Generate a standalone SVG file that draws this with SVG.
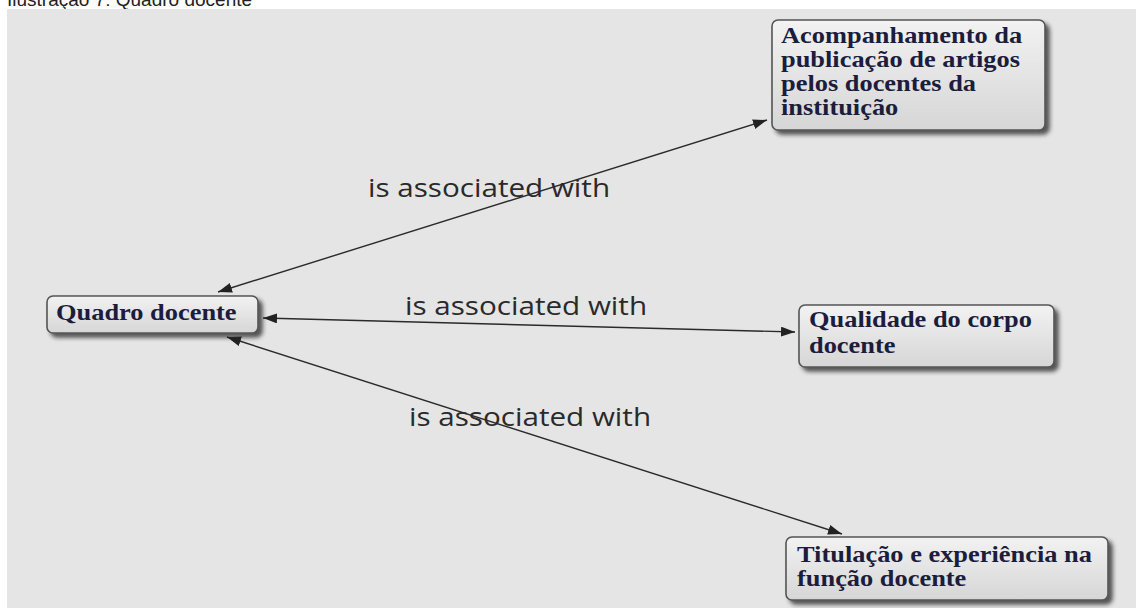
<svg xmlns="http://www.w3.org/2000/svg" width="1136" height="608" viewBox="0 0 1136 608">
  <defs>
    <linearGradient id="nodeFill" x1="0" y1="0" x2="0" y2="1">
      <stop offset="0" stop-color="#f2f2f2"/>
      <stop offset="1" stop-color="#d6d6d6"/>
    </linearGradient>
    <filter id="nodeShadow" x="-10%" y="-20%" width="130%" height="150%">
      <feDropShadow dx="4" dy="4" stdDeviation="2" flood-color="#202020" flood-opacity="0.75"/>
    </filter>
    <marker id="arrow" viewBox="0 0 14 10" refX="14" refY="5" markerWidth="14" markerHeight="10" markerUnits="userSpaceOnUse" orient="auto-start-reverse">
      <path d="M0,0 L14,5 L0,10 Z" fill="#222"/>
    </marker>
  </defs>
  <style>
    .title { font-family: "Liberation Sans", Arial, sans-serif; font-size: 19px; fill: #222; }
    .canvas { fill: #e5e5e5; }
    .box { fill: url(#nodeFill); stroke: #555; stroke-width: 1.6; filter: url(#nodeShadow); }
    .ntext { font-family: "Liberation Serif", "Times New Roman", serif; font-weight: bold; font-size: 24px; fill: #1c1c3c; }
    .edge { stroke: #2a2a2a; stroke-width: 1.4; fill: none; marker-start: url(#arrow); marker-end: url(#arrow); }
    .elabel { font-family: "Open Sans", "DejaVu Sans", sans-serif; font-size: 26px; fill: #2a2a2a; }
  </style>

  <!-- caption above the drawing area -->
  <text class="title" x="7" y="6">Ilustração 7: Quadro docente</text>

  <!-- drawing area -->
  <rect class="canvas" x="7" y="9" width="1129" height="599"/>

  <!-- connectors -->
  <g id="connectors">
    <line class="edge" x1="218" y1="292" x2="767" y2="120"/>
    <line class="edge" x1="263" y1="318" x2="795" y2="332"/>
    <line class="edge" x1="227" y1="337" x2="842" y2="534"/>
    <text class="elabel" transform="translate(368,197) scale(1.14,1)">is associated with</text>
    <text class="elabel" transform="translate(405,315) scale(1.14,1)">is associated with</text>
    <text class="elabel" transform="translate(409,426) scale(1.14,1)">is associated with</text>
  </g>

  <!-- nodes -->
  <g id="node-quadro">
    <rect class="box" x="47" y="296" width="211" height="37" rx="6"/>
    <text class="ntext" transform="translate(56,320) scale(1.1,1)">Quadro docente</text>
  </g>

  <g id="node-acompanhamento">
    <rect class="box" x="772" y="20" width="273" height="110" rx="6"/>
    <text class="ntext" transform="translate(781,43) scale(1.1,1)">
      <tspan x="0" y="0">Acompanhamento da</tspan>
      <tspan x="0" y="24">publicação de artigos</tspan>
      <tspan x="0" y="48">pelos docentes da</tspan>
      <tspan x="0" y="72">instituição</tspan>
    </text>
  </g>

  <g id="node-qualidade">
    <rect class="box" x="799" y="305" width="255" height="62" rx="6"/>
    <text class="ntext" transform="translate(809,327) scale(1.1,1)">
      <tspan x="0" y="0">Qualidade do corpo</tspan>
      <tspan x="0" y="26">docente</tspan>
    </text>
  </g>

  <g id="node-titulacao">
    <rect class="box" x="786" y="537" width="322" height="63" rx="6"/>
    <text class="ntext" transform="translate(797,562) scale(1.1,1)">
      <tspan x="0" y="0">Titulação e experiência na</tspan>
      <tspan x="0" y="24">função docente</tspan>
    </text>
  </g>
</svg>
